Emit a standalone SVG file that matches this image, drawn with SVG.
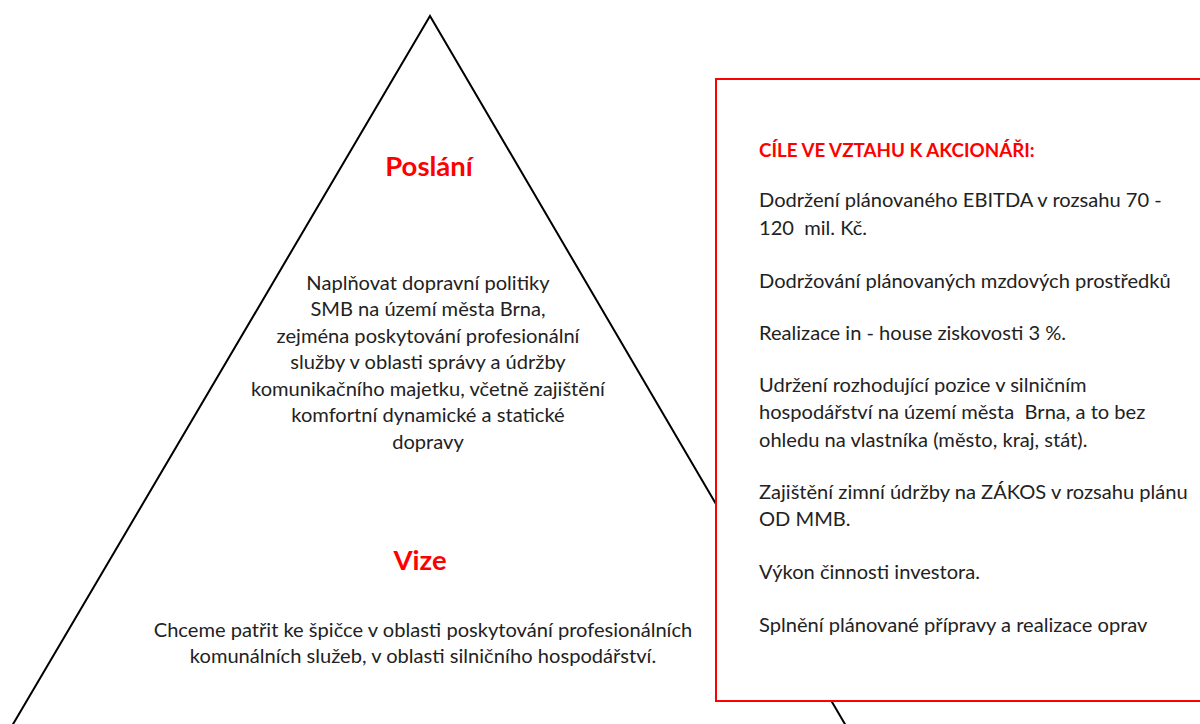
<svg xmlns="http://www.w3.org/2000/svg" width="1200" height="724" viewBox="0 0 1200 724">
<style>
.t{font-family:Lato,"Open Sans","Liberation Sans",sans-serif;font-size:20.1px;fill:#222}
.c{text-anchor:middle}
.h{font-family:Lato,"Open Sans","Liberation Sans",sans-serif;font-weight:bold;fill:#ff0000}
</style>
<rect x="0" y="0" width="1200" height="724" fill="#ffffff"/>
<g id="pyramid">
<path d="M 9,731 L 430,16 L 849,731" fill="none" stroke="#000" stroke-width="2"/>
</g>
<g id="poslani">
<text class="h c" x="429" y="176" font-size="27.5">Poslání</text>
<text class="t c" x="428" y="290">Naplňovat dopravní politiky</text>
<text class="t c" x="428" y="316">SMB na území města Brna,</text>
<text class="t c" x="428" y="343">zejména poskytování profesionální</text>
<text class="t c" x="428" y="369">služby v oblasti správy a údržby</text>
<text class="t c" x="428" y="396">komunikačního majetku, včetně zajištění</text>
<text class="t c" x="428" y="422">komfortní dynamické a statické</text>
<text class="t c" x="428" y="449">dopravy</text>
</g>
<g id="vize">
<text class="h c" x="420" y="570" font-size="27.5">Vize</text>
<text class="t c" x="423" y="637">Chceme patřit ke špičce v oblasti poskytování profesionálních</text>
<text class="t c" x="423" y="663">komunálních služeb, v oblasti silničního hospodářství.</text>
</g>
<g id="cile">
<rect x="716" y="79" width="520" height="622" fill="#ffffff" stroke="#ff0000" stroke-width="2"/>
<text class="h" x="759" y="157" font-size="18.8">CÍLE VE VZTAHU K AKCIONÁŘI:</text>
<text class="t" x="759" y="207">Dodržení plánovaného EBITDA v rozsahu 70 -</text>
<text class="t" x="759" y="235" xml:space="preserve">120  mil. Kč.</text>
<text class="t" x="759" y="288">Dodržování plánovaných mzdových prostředků</text>
<text class="t" x="759" y="340">Realizace in - house ziskovosti 3 %.</text>
<text class="t" x="759" y="392">Udržení rozhodující pozice v silničním</text>
<text class="t" x="759" y="419" xml:space="preserve">hospodářství na území města  Brna, a to bez</text>
<text class="t" x="759" y="447">ohledu na vlastníka (město, kraj, stát).</text>
<text class="t" x="759" y="499">Zajištění zimní údržby na ZÁKOS v rozsahu plánu</text>
<text class="t" x="759" y="526">OD MMB.</text>
<text class="t" x="759" y="579">Výkon činnosti investora.</text>
<text class="t" x="759" y="632">Splnění plánované přípravy a realizace oprav</text>
</g>
</svg>
